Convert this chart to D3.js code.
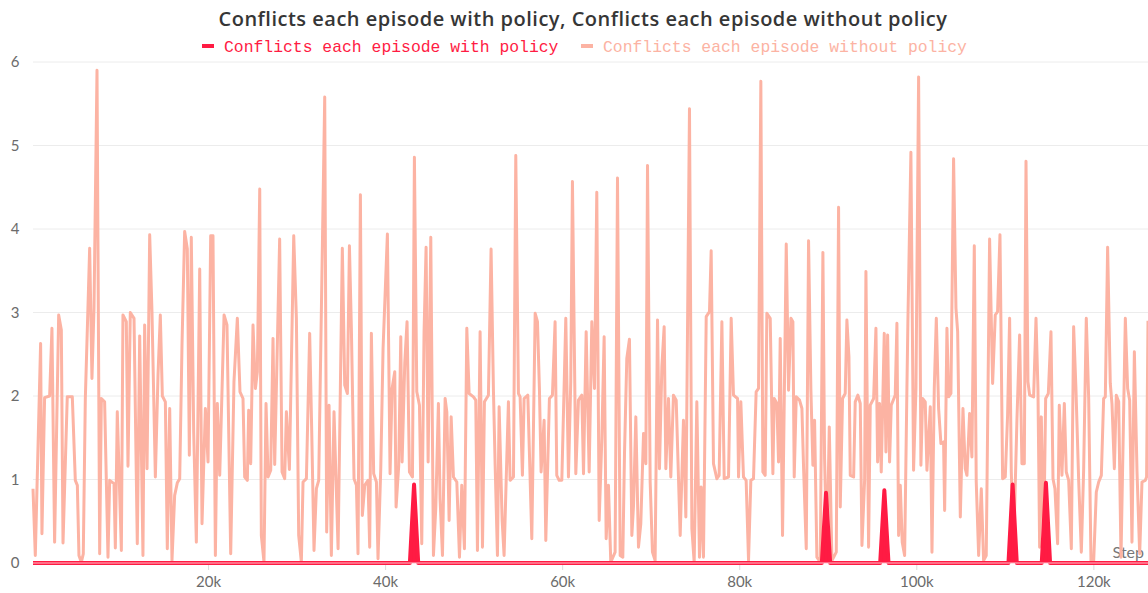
<!DOCTYPE html>
<html>
<head>
<meta charset="utf-8">
<script src="https://cdn.jsdelivr.net/npm/d3@7"></script>
<style>
  html, body { margin: 0; padding: 0; background: #fff; }
  svg { display: block; }
</style>
</head>
<body>
<svg id="chart" width="1148" height="593"></svg>
<script>
// ---- data -------------------------------------------------------------
const chartTitle = "Conflicts each episode with policy, Conflicts each episode without policy";
const seriesNames = ["Conflicts each episode with policy", "Conflicts each episode without policy"];
const xTickValues = [20000, 40000, 60000, 80000, 100000, 120000];
const yTickValues = [0, 1, 2, 3, 4, 5, 6];

// conflicts per episode with the policy enabled
const withPolicySteps = [230, 42800, 43270, 43740, 89330, 89800, 90270, 95920, 96390, 96860,
  110410, 110880, 111350, 114170, 114640, 115110, 126170];
const withPolicyValues = [0, 0, 0.94, 0, 0, 0.84, 0, 0, 0.87, 0,
  0, 0.94, 0, 0, 0.96, 0, 0];

// conflicts per episode without the policy
const withoutPolicySteps = [
  230, 490, 1090, 1240, 1540, 2110, 2370, 2670, 3130, 3430, 3620, 4100, 4670, 5010, 5240, 5420,
  5690, 5910, 6140, 6630, 6890, 7120, 7460, 7760, 7950, 8320, 8700, 8890, 9380, 9530, 9750, 10210,
  10390, 10770, 10960, 11220, 11640, 12010, 12280, 12650, 12840, 13110, 13410, 13670, 14050, 14350,
  14610, 14840, 15180, 15400, 15670, 15930, 16230, 16530, 16800, 17060, 17360, 17660, 17890, 18110,
  18380, 18680, 19060, 19320, 19700, 20000, 20300, 20560, 20830, 21050, 21320, 21810, 22140, 22560,
  22930, 23310, 23610, 23950, 24140, 24440, 24590, 24820, 25080, 25350, 25570, 25840, 26020, 26320,
  26550, 26780, 27080, 27340, 27530, 28090, 28360, 28660, 28850, 29190, 29680, 29980, 30240, 30540,
  30730, 31110, 31480, 31710, 31970, 32240, 32500, 33180, 33400, 33670, 33930, 34230, 34690, 35170,
  35440, 35740, 35970, 36190, 36490, 36760, 36940, 37210, 37430, 37700, 38070, 38260, 38450, 38710,
  39020, 39200, 39510, 39770, 40260, 40560, 40790, 41090, 41240, 41540, 41770, 41920, 42220, 42480,
  42750, 43090, 43310, 43580, 43880, 44140, 44400, 44630, 44860, 45160, 45460, 45720, 46020, 46210,
  46480, 46780, 46970, 47230, 47460, 47720, 48100, 48400, 48660, 48960, 49230, 49490, 49980, 50240,
  50430, 50730, 51000, 51220, 51670, 51970, 52240, 52430, 52690, 52880, 53220, 53440, 53670, 53930,
  54120, 54500, 54760, 55060, 55250, 55510, 55700, 56120, 56570, 56950, 57210, 57430, 57620, 57960,
  58150, 58560, 58900, 59200, 59390, 59660, 59960, 60410, 60710, 60970, 61160, 61540, 61840, 62220,
  62410, 62710, 63050, 63350, 63650, 63910, 64180, 64480, 64740, 64970, 65230, 65490, 65980, 66250,
  66550, 66850, 67040, 67300, 67600, 67870, 68060, 68320, 68620, 68880, 69190, 69450, 69640, 69940,
  70200, 70500, 70770, 70990, 71260, 71520, 71710, 72010, 72270, 72570, 72880, 73330, 73700, 73970,
  74380, 74650, 74910, 75210, 75510, 75700, 75960, 76270, 76640, 76830, 77090, 77470, 77730, 78040,
  78300, 78790, 79090, 79350, 79810, 79920, 80180, 80480, 80780, 81050, 81310, 81610, 81910, 82180,
  82440, 82670, 82930, 83120, 83500, 83800, 83950, 84250, 84440, 84630,
  84890, 85310, 85570, 85840, 86060, 86210, 86440, 86810, 87080, 87270, 87570, 87830, 88090, 88320,
  88510, 88770, 89150, 89450, 89640, 89900, 90170, 90470, 90960, 91220, 91410, 91670, 91970, 92160,
  92390, 92540, 92920, 93100, 93400, 93670, 93860, 94160, 94310, 94610, 94800, 95180, 95440, 95630,
  95850, 96040, 96380, 96570, 96760, 96980, 97170, 97620, 97810, 98000, 98190, 98410, 98680, 98940,
  99050, 99390, 99690, 99960, 100260, 100520, 100710, 101010, 101200, 101580, 101770, 102030, 102260,
  102520, 102780, 103080, 103200, 103460, 103650, 103910, 104210, 104480, 104670, 104970, 105270,
  105530, 105720, 106020, 106280, 106550, 106770, 107040, 107340, 107600, 107900, 108280, 108620,
  108920, 109180, 109450, 109750, 110050, 110310, 110540, 110730, 110990, 111370, 111670, 111930,
  112200, 112390, 112610, 112800, 113250, 113520, 113740, 113930, 114120, 114380, 114610, 114910,
  115210, 115440, 115660, 115960, 116150, 116450, 116720, 116940, 117210, 117510, 117770, 118030,
  118340, 118640, 118900, 119200, 119470, 119730, 120030, 120330, 120600, 120900, 121160, 121350,
  121610, 121910, 122100, 122370, 122590, 122860, 123120, 123610, 123870, 124100, 124360, 124630,
  124930, 125230, 125490, 125870, 126010, 126170
];
const withoutPolicyValues = [
  0.89, 0.09, 2.63, 0.35, 1.98, 2.0, 2.81, 0.25, 2.97, 2.79, 0.24, 1.99, 1.99, 0.99, 0.93, 0.09,
  0.01, 0.11, 1.97, 3.77, 2.21, 3.05, 5.9, 0.11, 1.97, 1.93, 0.07, 0.99, 0.95, 0.18, 1.81, 0.15,
  2.97, 2.89, 1.16, 3.0, 2.93, 0.23, 2.72, 0.09, 2.85, 1.13, 3.93, 3.0, 1.03, 2.25,
  2.97, 2.0, 1.93, 0.17, 1.85, 0.03, 0.81, 0.96, 1.01, 2.61, 3.97, 3.76, 1.29, 3.9,
  1.57, 0.25, 3.52, 0.47, 1.85, 1.21, 3.92, 3.92, 0.09, 1.91, 1.05, 2.97, 2.85, 0.11,
  2.17, 2.93, 2.05, 1.97, 1.03, 0.99, 1.83, 1.19, 2.85, 2.09, 2.29, 4.48, 0.33, 0.01,
  1.91, 1.03, 1.11, 2.69, 1.18, 3.88, 1.09, 1.01, 1.81, 1.12, 3.92, 2.93, 0.33, 0.01,
  0.97, 1.01, 2.75, 1.59, 0.15, 0.89, 0.99, 5.58, 0.37, 1.89, 0.09, 1.81, 0.17, 3.77,
  2.13, 2.03, 3.8, 2.81, 1.01, 0.93, 0.11, 4.41, 0.57, 0.93, 0.99, 0.19, 2.75, 1.07,
  0.97, 0.05, 1.13, 2.57, 3.94, 1.07, 2.09, 2.29, 0.67, 1.17, 2.71, 1.21, 2.39, 2.89,
  1.09, 1.03, 4.86, 2.05, 1.89, 0.23, 2.77, 3.78, 1.21, 3.9, 0.09, 0.65, 1.91, 0.77,
  0.09, 1.97, 1.81, 0.51, 1.75, 1.03, 0.97, 0.07, 0.93, 0.17, 2.81, 2.03, 1.99, 1.95,
  0.15, 2.77, 0.19, 1.93, 2.01, 3.76, 2.05, 1.17, 0.09, 1.87, 0.51, 0.09, 0.97, 1.93,
  0.99, 1.03, 4.88, 2.03, 1.99, 1.05, 1.97, 2.01, 0.29, 2.99, 2.89, 2.09, 1.09, 1.71,
  0.27, 1.97, 2.01, 2.89, 1.05, 0.99, 0.99, 2.93, 1.03, 2.17, 4.57, 1.07, 1.95, 2.01,
  1.07, 2.77, 1.09, 2.89, 2.09, 4.44, 0.51, 1.49, 2.71, 0.29, 0.93, 0.01, 0.13, 4.61,
  0.09, 0.07, 1.31, 2.45, 2.68, 0.33, 0.69, 1.75, 0.19, 0.47, 1.55, 1.19, 4.76, 0.97,
  0.13, 0.03, 2.91, 1.13, 2.35, 2.83, 1.13, 1.97, 1.03, 2.01, 1.95, 0.33, 1.71, 0.55,
  5.44, 0.41, 0.01, 1.93, 0.07, 0.91, 0.07, 2.95, 3.01, 3.74, 1.19, 1.01, 1.05, 2.89,
  1.01, 1.03, 2.93, 2.01, 1.97, 1.03, 1.93, 1.03, 0.99, 0.03, 0.99, 1.01, 2.05, 2.09,
  5.77, 1.09, 1.05, 2.99, 2.93, 1.07, 1.97, 1.91, 1.21, 2.69,
  0.33, 3.82, 2.07, 2.93, 2.89, 1.03, 1.99, 1.95, 1.85, 1.13, 0.17, 3.86, 2.09, 1.17,
  1.71, 0.07, 0.01, 3.72, 1.25, 0.07, 1.63, 0.03, 0.13, 4.26, 0.67, 1.97, 2.03, 2.91,
  2.47, 1.05, 1.03, 1.93, 2.01, 1.91, 0.21, 0.99, 3.49, 0.19, 1.89, 1.97, 2.81, 1.21,
  1.91, 1.09, 2.75, 1.33, 2.73, 1.21, 1.89, 2.01, 2.87, 0.33, 0.93, 0.25, 0.09, 2.09,
  2.89, 4.92, 1.11, 2.09, 5.82, 1.17, 1.97, 1.93, 1.11, 1.87, 0.13, 2.09, 2.93,
  1.85, 1.43, 1.45, 0.63, 2.81, 1.99, 2.03, 4.84, 3.05, 2.77, 0.55, 1.85,
  1.13, 1.05, 1.79, 1.27, 3.8, 0.97, 0.09, 0.89, 0.03, 0.09, 3.88, 2.15,
  2.97, 3.01, 3.93, 1.01, 1.03, 1.77, 2.93, 1.09, 0.17, 1.73, 2.73, 1.19,
  1.19, 4.81, 2.17, 2.01, 1.99, 2.93, 2.09, 0.19, 1.75, 0.17, 1.97, 2.03,
  2.77, 1.01, 0.89, 0.23, 1.89, 1.05, 1.91, 1.09, 0.99, 0.17, 2.83, 2.09,
  0.99, 0.13, 1.11, 2.93, 1.97, 0.03, 0.01, 0.85, 0.97, 1.05, 1.97, 1.99,
  3.78, 2.15, 1.91, 1.13, 2.01, 1.93, 0.07, 2.93, 2.09, 1.95, 0.25, 2.53,
  1.09, 0.11, 0.97, 0.99, 1.03, 2.9
];

// ---- layout -----------------------------------------------------------
const W = 1148, H = 593;
const plot = { left: 33, right: 1148, top: 62, bottom: 563 };
const colors = { withPolicy: "#ff1b43", withoutPolicy: "#fcb3a3", baseInner: "#ffc2cb" };
const tickFont = "Lato, 'Noto Sans', sans-serif";

const svg = d3.select("#chart");
svg.append("rect").attr("width", W).attr("height", H).attr("fill", "#fff");

const allSteps = withoutPolicySteps.concat(withPolicySteps);
const x = d3.scaleLinear()
  .domain([d3.min(allSteps), d3.max(allSteps)])
  .range([plot.left, plot.right]);
const y = d3.scaleLinear().domain([0, 6]).range([plot.bottom, plot.top]);

svg.append("defs").append("clipPath").attr("id", "plot-clip")
  .append("rect")
  .attr("x", plot.left - 2).attr("y", plot.top - 10)
  .attr("width", plot.right - plot.left + 2).attr("height", plot.bottom - plot.top + 16);

// horizontal grid
svg.append("g")
  .selectAll("line")
  .data(yTickValues.filter(d => d > 0))
  .join("line")
  .attr("x1", plot.left).attr("x2", plot.right)
  .attr("y1", d => y(d)).attr("y2", d => y(d))
  .attr("stroke", "#ececec").attr("stroke-width", 1);

// y axis labels
const yAxis = svg.append("g")
  .attr("transform", `translate(${plot.left - 10},0)`)
  .call(d3.axisLeft(y).tickValues(yTickValues).tickSize(0).tickPadding(0).tickFormat(d3.format("d")));
yAxis.select(".domain").remove();
yAxis.selectAll("text")
  .attr("text-anchor", "middle")
  .attr("x", -8)
  .attr("fill", "#6b6b6b")
  .style("font-family", tickFont)
  .style("font-size", "15px");

// x axis
const xAxis = svg.append("g")
  .attr("transform", `translate(0,${plot.bottom})`)
  .call(d3.axisBottom(x).tickValues(xTickValues).tickSize(7).tickPadding(6)
    .tickFormat(d => (d / 1000) + "k"));
xAxis.select(".domain").remove();
xAxis.selectAll(".tick line").attr("stroke", "#dcdcdc");
xAxis.selectAll("text")
  .attr("fill", "#6b6b6b")
  .style("font-family", tickFont)
  .style("font-size", "15px");

svg.append("text")
  .attr("x", 1144).attr("y", 558)
  .attr("text-anchor", "end")
  .attr("fill", "#777")
  .style("font-family", tickFont)
  .style("font-size", "16px")
  .text("Step");

// series lines
const line = d3.line().x(d => x(d[0])).y(d => y(d[1]));
const withoutData = withoutPolicySteps.map((s, i) => [s, withoutPolicyValues[i]]);
const withData = withPolicySteps.map((s, i) => [s, withPolicyValues[i]]);

const marks = svg.append("g").attr("clip-path", "url(#plot-clip)");

marks.append("path")
  .datum(withoutData)
  .attr("d", line)
  .attr("fill", "none")
  .attr("stroke", colors.withoutPolicy)
  .attr("stroke-width", 3)
  .attr("stroke-linejoin", "round");

// with-policy series: spikes are filled down to the zero line
marks.append("path")
  .datum(withData)
  .attr("d", line)
  .attr("fill", colors.withPolicy)
  .attr("stroke", colors.withPolicy)
  .attr("stroke-width", 4)
  .attr("stroke-linejoin", "round");

// pale core of the zero-level segment
marks.append("line")
  .attr("x1", x(d3.min(withPolicySteps))).attr("x2", x(d3.max(withPolicySteps)))
  .attr("y1", y(0)).attr("y2", y(0))
  .attr("stroke", colors.baseInner)
  .attr("stroke-width", 1.2);

// title
svg.append("text")
  .attr("x", 583).attr("y", 26)
  .attr("text-anchor", "middle")
  .attr("fill", "#363636")
  .style("font-family", "'Open Sans', 'Noto Sans', sans-serif")
  .style("font-weight", "600")
  .style("font-size", "20px")
  .style("letter-spacing", "0.5px")
  .text(chartTitle);

// legend
const legendItems = [
  { name: seriesNames[0], color: colors.withPolicy, x: 202 },
  { name: seriesNames[1], color: colors.withoutPolicy, x: 581 }
];
const legend = svg.append("g");
legendItems.forEach(item => {
  legend.append("rect")
    .attr("x", item.x).attr("y", 44).attr("width", 12).attr("height", 4)
    .attr("fill", item.color);
  legend.append("text")
    .attr("x", item.x + 22).attr("y", 52)
    .attr("fill", item.color)
    .style("font-family", "'Liberation Mono', 'DejaVu Sans Mono', monospace")
    .style("font-size", "16.4px")
    .text(item.name);
});
</script>
</body>
</html>
